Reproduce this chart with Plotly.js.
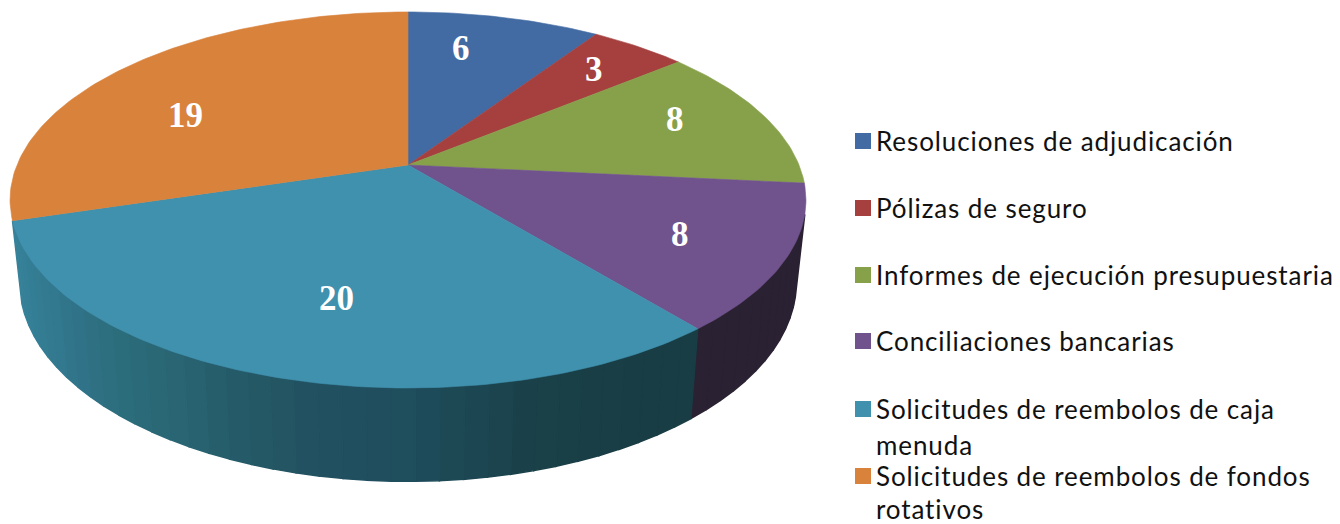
<!DOCTYPE html>
<html>
<head>
<meta charset="utf-8">
<script src="https://cdn.plot.ly/plotly-3.0.1.min.js"></script>
<style>html,body{margin:0;padding:0;background:#fff;overflow:hidden}#chart{width:1340px;height:524px}
.annotation-text{letter-spacing:0.9px}
.annotation-text tspan[style*="bold"]{letter-spacing:0}</style>
</head>
<body>
<div id="chart"></div>
<script>
// Data
const categories = ["Resoluciones de adjudicación","Pólizas de seguro","Informes de ejecución presupuestaria","Conciliaciones bancarias","Solicitudes de reembolos de caja<br>menuda","Solicitudes de reembolos de fondos<br>rotativos"];
const values = [6,3,8,8,20,19];
const colors = ["#436ba3","#a5403f","#87a14b","#70528d","#3f91ae","#d9823b"];
const sideColors = [null,null,null,"#2a2233",null,null];
// teal wall shades read along the wall, from its right end to its left end
const tealWall = ["#193d44","#193d44","#193e46","#1a4049","#1c4753","#1f4e5d","#214f60","#235663","#275f6d","#2a6876","#2d6e7c","#30748a","#337a90","#357f97","#37829a"];
const labelX = [461,594,675,680,336,185];
const labelY = [48,69,119,234,298,115];
const legendY = [141,208,275,341,409,476];

// Perspective disc projection
const cx=408, cy=165, A=391, B=181.5, K=0.186;
const top3d = t => { const d=1+K*Math.cos(t); return [cx+A*Math.sin(t)/d, cy-B*Math.cos(t)/d]; };
const low3d = t => { const p=top3d(t); return [cx+0.976*(p[0]-cx), 245+1.06*(p[1]-cy)]; };
const total = values.reduce((a,b)=>a+b,0);
const hex = c => [1,3,5].map(i=>parseInt(c.substr(i,2),16));
const mix = (a,b,f) => { const x=hex(a),y=hex(b); return "rgb("+x.map((v,i)=>Math.round(v+(y[i]-v)*f)).join(",")+")"; };

const traces=[];
let acc=0;
const bounds=values.map(v=>{const s=acc/total*2*Math.PI; acc+=v; return [s,acc/total*2*Math.PI];});

// Side walls: only the visible front part, beginning on the right-hand edge
const vis0=105/180*Math.PI;
bounds.forEach((b,i)=>{
  if(i!==3 && i!==4) return;
  const s=Math.max(b[0],vis0), e=b[1];
  const n=Math.max(2,Math.round((e-s)/(Math.PI/60)));
  for(let j=0;j<n;j++){
    const a0=s+(e-s)*j/n, a1=s+(e-s)*(j+1)/n, m=(j+0.5)/n;
    let col=sideColors[i];
    if(i===4){
      const f=m*(tealWall.length-1), q=Math.floor(f);
      col=mix(tealWall[q],tealWall[Math.min(q+1,tealWall.length-1)],f-q);
    }
    const p=[top3d(a0),top3d(a1),low3d(a1),low3d(a0),top3d(a0)];
    traces.push({type:"scatter",mode:"lines",x:p.map(v=>v[0]),y:p.map(v=>v[1]),fill:"toself",fillcolor:col,line:{color:col,width:1.5},hoverinfo:"skip",showlegend:false});
  }
});

// Top face
bounds.forEach((b,i)=>{
  const xs=[cx],ys=[cy];
  const n=Math.ceil((b[1]-b[0])/(Math.PI/180));
  for(let j=0;j<=n;j++){const p=top3d(b[0]+(b[1]-b[0])*j/n); xs.push(p[0]); ys.push(p[1]);}
  xs.push(cx); ys.push(cy);
  traces.push({type:"scatter",mode:"lines",x:xs,y:ys,fill:"toself",fillcolor:colors[i],line:{color:colors[i],width:0.6},name:categories[i].replace("<br>"," "),text:String(values[i]),hoverinfo:"name+text",showlegend:false});
});

// Legend swatches
traces.push({type:"scatter",mode:"markers",x:categories.map(()=>863),y:legendY,marker:{symbol:"square",size:16,color:colors,line:{width:0}},hoverinfo:"skip",showlegend:false});

const annotations=[];
values.forEach((v,i)=>annotations.push({x:labelX[i],y:labelY[i],xref:"x",yref:"y",text:"<b>"+v+"</b>",showarrow:false,font:{family:"Liberation Serif",size:35,color:"#ffffff"}}));
categories.forEach((c,i)=>c.split("<br>").forEach((t,k)=>annotations.push({x:874,y:legendY[i]+k*(i===5?33:36),xref:"x",yref:"y",xanchor:"left",text:t,showarrow:false,font:{family:"Lato",size:26,color:"#111111"}})));

Plotly.newPlot("chart",traces,{
  width:1340,height:524,margin:{l:0,r:0,t:0,b:0},paper_bgcolor:"#fff",plot_bgcolor:"#fff",showlegend:false,
  xaxis:{range:[0,1340],visible:false,fixedrange:true},
  yaxis:{range:[524,0],visible:false,fixedrange:true},
  annotations
},{displayModeBar:false,staticPlot:true});
</script>
</body>
</html>
